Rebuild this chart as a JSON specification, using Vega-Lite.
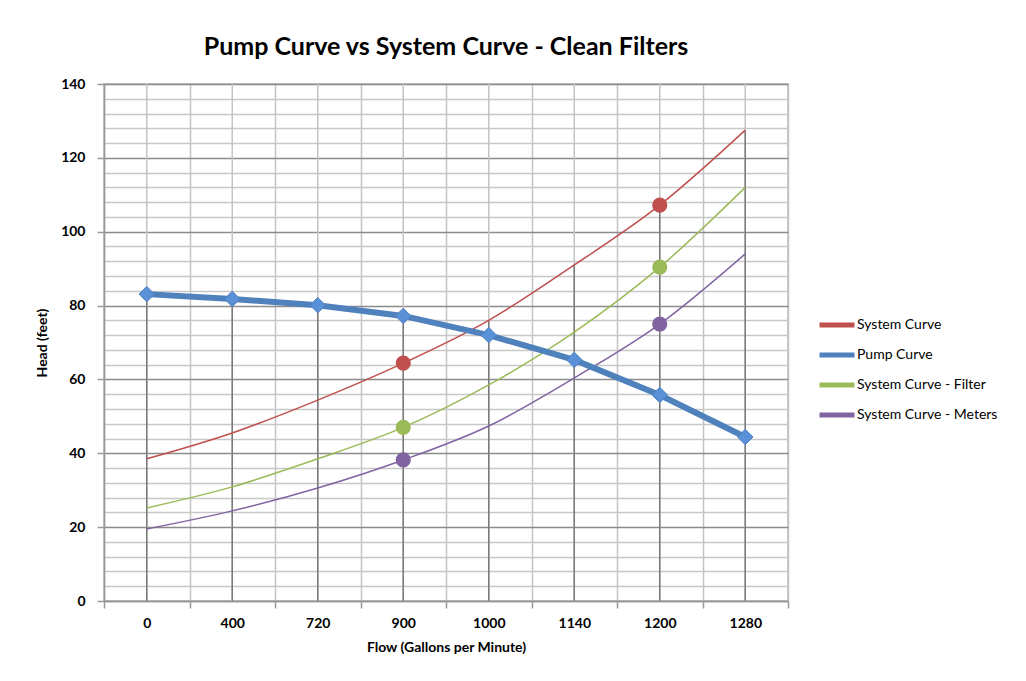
{
  "$schema": "https://vega.github.io/schema/vega-lite/v6.json",
  "width": 684,
  "height": 517,
  "autosize": {"type": "none"},
  "padding": {"left": 104, "top": 84, "right": 238, "bottom": 80},
  "background": "white",
  "config": {
    "font": "Lato",
    "view": {"stroke": "#b8b8b8", "strokeWidth": 1.5},
    "axis": {
      "labelFont": "Lato",
      "labelFontSize": 14,
      "labelFontWeight": "bold",
      "labelColor": "#000",
      "titleFont": "Lato",
      "titleFontSize": 14,
      "titleFontWeight": "bold",
      "titleColor": "#000",
      "domainColor": "#999",
      "domainWidth": 1.5,
      "tickColor": "#999",
      "tickWidth": 1.5,
      "tickSize": 7
    },
    "legend": {
      "orient": "none",
      "legendX": 713,
      "legendY": 221,
      "symbolType": "stroke",
      "symbolStrokeWidth": 5,
      "symbolSize": 1225,
      "labelFont": "Lato",
      "labelFontSize": 14,
      "labelColor": "#000",
      "rowPadding": 0,
      "labelOffset": 0
    }
  },
  "title": {
    "text": "Pump Curve vs System Curve - Clean Filters",
    "fontSize": 25,
    "fontWeight": "bold",
    "font": "Lato",
    "color": "#000",
    "anchor": "middle",
    "offset": 17
  },
  "data": {
    "values": [
      {"flow": 0, "series": "Pump Curve", "head": 83.1},
      {"flow": 400, "series": "Pump Curve", "head": 81.8},
      {"flow": 720, "series": "Pump Curve", "head": 80.1},
      {"flow": 900, "series": "Pump Curve", "head": 77.2},
      {"flow": 1000, "series": "Pump Curve", "head": 72.0},
      {"flow": 1140, "series": "Pump Curve", "head": 65.3},
      {"flow": 1200, "series": "Pump Curve", "head": 55.8},
      {"flow": 1280, "series": "Pump Curve", "head": 44.4},
      {"flow": 0, "series": "System Curve", "head": 38.5},
      {"flow": 400, "series": "System Curve", "head": 45.5},
      {"flow": 720, "series": "System Curve", "head": 54.4},
      {"flow": 900, "series": "System Curve", "head": 64.4},
      {"flow": 1000, "series": "System Curve", "head": 76.0},
      {"flow": 1140, "series": "System Curve", "head": 91.0},
      {"flow": 1200, "series": "System Curve", "head": 107.2},
      {"flow": 1280, "series": "System Curve", "head": 127.5},
      {"flow": 0, "series": "System Curve - Filter", "head": 25.2},
      {"flow": 400, "series": "System Curve - Filter", "head": 30.9},
      {"flow": 720, "series": "System Curve - Filter", "head": 38.5},
      {"flow": 900, "series": "System Curve - Filter", "head": 47.0},
      {"flow": 1000, "series": "System Curve - Filter", "head": 58.5},
      {"flow": 1140, "series": "System Curve - Filter", "head": 72.8},
      {"flow": 1200, "series": "System Curve - Filter", "head": 90.4},
      {"flow": 1280, "series": "System Curve - Filter", "head": 112.0},
      {"flow": 0, "series": "System Curve - Meters", "head": 19.5},
      {"flow": 400, "series": "System Curve - Meters", "head": 24.4},
      {"flow": 720, "series": "System Curve - Meters", "head": 30.6},
      {"flow": 900, "series": "System Curve - Meters", "head": 38.2},
      {"flow": 1000, "series": "System Curve - Meters", "head": 47.4},
      {"flow": 1140, "series": "System Curve - Meters", "head": 60.4},
      {"flow": 1200, "series": "System Curve - Meters", "head": 75.0},
      {"flow": 1280, "series": "System Curve - Meters", "head": 94.0}
    ]
  },
  "layer": [
    {
      "transform": [{"filter": "datum.series === 'Pump Curve'"}],
      "mark": {"type": "rule", "color": "#c4c4c4", "strokeWidth": 1.5},
      "encoding": {
        "x": {
          "field": "flow",
          "type": "ordinal",
          "bandPosition": 0.5,
          "scale": {"type": "band", "paddingInner": 0, "paddingOuter": 0},
          "axis": {
            "title": "Flow (Gallons per Minute)",
            "tickBand": "extent",
            "grid": true,
            "gridColor": "#c4c4c4",
            "gridWidth": 1.5,
            "labelAngle": 0,
            "labelPadding": 8,
            "titlePadding": 10
          }
        },
        "y": {"datum": 0, "type": "quantitative"},
        "y2": {"datum": 140}
      }
    },
    {
      "mark": {"type": "rule", "color": "#7a7a7a", "strokeWidth": 1.5},
      "encoding": {
        "x": {"field": "flow", "type": "ordinal", "bandPosition": 0.5},
        "y": {"aggregate": "max", "field": "head", "type": "quantitative"},
        "y2": {"datum": 0}
      }
    },
    {
      "transform": [{"filter": "datum.series !== 'Pump Curve'"}],
      "mark": {"type": "line", "interpolate": "monotone", "strokeWidth": 1.5},
      "encoding": {
        "x": {"field": "flow", "type": "ordinal", "bandPosition": 0.5},
        "y": {"field": "head", "type": "quantitative"},
        "color": {
          "field": "series",
          "type": "nominal",
          "scale": {
            "domain": ["System Curve", "Pump Curve", "System Curve - Filter", "System Curve - Meters"],
            "range": ["#c0504d", "#4f81bd", "#9bbb59", "#8064a2"]
          },
          "legend": {"title": null}
        }
      }
    },
    {
      "transform": [{"filter": "datum.series === 'Pump Curve'"}],
      "mark": {"type": "line", "strokeWidth": 6},
      "encoding": {
        "x": {"field": "flow", "type": "ordinal", "bandPosition": 0.5},
        "y": {
          "field": "head",
          "type": "quantitative",
          "scale": {"domain": [0, 140], "nice": false, "zero": true},
          "axis": {
            "title": "Head (feet)",
            "values": [0, 4, 8, 12, 16, 20, 24, 28, 32, 36, 40, 44, 48, 52, 56, 60, 64, 68, 72, 76, 80, 84, 88, 92, 96, 100, 104, 108, 112, 116, 120, 124, 128, 132, 136, 140],
            "tickCount": 100,
            "labelExpr": "datum.value % 20 === 0 ? datum.label : ''",
            "labelOverlap": false,
            "labelBound": false,
            "grid": true,
            "gridColor": {"condition": {"test": "datum.value % 20 === 0", "value": "#8c8c8c"}, "value": "#c8c8c8"},
            "gridWidth": 1.5,
            "tickOpacity": {"condition": {"test": "datum.value % 20 === 0", "value": 1}, "value": 0},
            "labelPadding": 12,
            "titlePadding": 11
          }
        },
        "color": {"field": "series", "type": "nominal"}
      }
    },
    {
      "transform": [{"filter": "datum.series !== 'Pump Curve' && (datum.flow === 900 || datum.flow === 1200)"}],
      "mark": {"type": "point", "shape": "circle", "filled": true, "opacity": 1, "size": 230},
      "encoding": {
        "x": {"field": "flow", "type": "ordinal", "bandPosition": 0.5},
        "y": {"field": "head", "type": "quantitative"},
        "color": {"field": "series", "type": "nominal"}
      }
    },
    {
      "transform": [{"filter": "datum.series === 'Pump Curve'"}],
      "mark": {"type": "point", "shape": "diamond", "filled": true, "opacity": 1, "size": 240, "color": "#5a90d8", "stroke": "#4f81bd", "strokeWidth": 1},
      "encoding": {
        "x": {"field": "flow", "type": "ordinal", "bandPosition": 0.5},
        "y": {"field": "head", "type": "quantitative"}
      }
    }
  ]
}
